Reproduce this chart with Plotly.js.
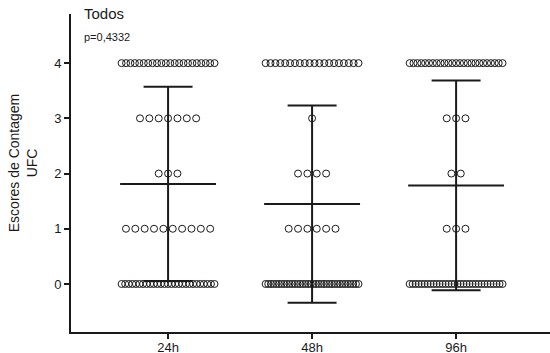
<!DOCTYPE html>
<html><head><meta charset="utf-8">
<script src="https://cdn.plot.ly/plotly-3.0.1.min.js"></script>
<style>html,body{margin:0;padding:0;background:#fff}#c{width:550px;height:353px}</style>
</head><body><div id="c"></div>
<script>
// Data: number of samples at each UFC score (0..4) per time point
const categories = ['24h', '48h', '96h'];
const scores = [0, 1, 2, 3, 4];
const counts24h = [27, 10, 3, 7, 22];
const counts48h = [36, 6, 4, 1, 20];
const counts96h = [32, 3, 2, 3, 25];
const yTicks = [0, 1, 2, 3, 4];
const titleText = 'Todos';
const pText = 'p=0,4332';

const allCounts = [counts24h, counts48h, counts96h];
const FONT = 'Arial, "Liberation Sans", sans-serif';
const INK = '#1a1a1a';

const traces = [];
const sparseStep = 0.065, maxWidth = 0.645;
allCounts.forEach((cnt, g) => {
  const xs = [], ys = [];
  scores.forEach((s, k) => {
    const n = cnt[k];
    if (!n) return;
    const step = n > 1 ? Math.min(sparseStep, maxWidth / (n - 1)) : 0;
    for (let i = 0; i < n; i++) { xs.push(g + (i - (n - 1) / 2) * step); ys.push(s); }
  });
  traces.push({type: 'scatter', mode: 'markers', x: xs, y: ys, hoverinfo: 'skip',
    marker: {symbol: 'circle-open', size: 7, color: INK, line: {width: 1, color: INK}}});
});
// mean and SD lines computed from the data
allCounts.forEach((cnt, g) => {
  let n = 0, sum = 0;
  scores.forEach((s, k) => { n += cnt[k]; sum += s * cnt[k]; });
  const mean = sum / n;
  let ss = 0;
  scores.forEach((s, k) => { ss += cnt[k] * (s - mean) * (s - mean); });
  const sd = Math.sqrt(ss / (n - 1));
  const hw = 0.333, cw = 0.17;
  traces.push({type: 'scatter', mode: 'lines', hoverinfo: 'skip',
    x: [g - hw, g + hw, null, g, g, null, g - cw, g + cw, null, g - cw, g + cw],
    y: [mean, mean, null, mean - sd, mean + sd, null, mean + sd, mean + sd, null, mean - sd, mean - sd],
    line: {color: INK, width: 2}});
});

const layout = {
  width: 550, height: 353,
  margin: {l: 71, r: 0, t: 14, b: 21},
  showlegend: false,
  paper_bgcolor: '#fff', plot_bgcolor: '#fff',
  font: {family: FONT, color: INK, size: 13},
  xaxis: {range: [-0.674, 2.652], tickvals: [0, 1, 2], ticktext: categories,
    showgrid: false, zeroline: false, showline: true, linecolor: INK, linewidth: 2,
    ticks: 'outside', ticklen: 5, tickwidth: 2, tickcolor: INK, tickfont: {size: 13},
    ticklabelstandoff: -3, fixedrange: true},
  yaxis: {range: [-0.87, 4.89], tickvals: yTicks, ticktext: yTicks.map(String),
    showgrid: false, zeroline: false, showline: true, linecolor: INK, linewidth: 2,
    ticks: 'outside', ticklen: 5, tickwidth: 2, tickcolor: INK, tickfont: {size: 13}, fixedrange: true},
  annotations: [
    {text: 'Escores de Contagem<br>UFC', xref: 'paper', yref: 'paper', x: -0.100, y: 0.531,
      textangle: -90, showarrow: false, font: {size: 14, family: FONT, color: INK}, xanchor: 'center', yanchor: 'middle'},
    {text: titleText, xref: 'paper', yref: 'paper', x: 0.023, y: 1.035, xanchor: 'left', yanchor: 'top',
      showarrow: false, font: {size: 15, family: FONT, color: INK}},
    {text: pText, xref: 'paper', yref: 'paper', x: 0.023, y: 0.953, xanchor: 'left', yanchor: 'top',
      showarrow: false, font: {size: 11, family: FONT, color: INK}}
  ]
};
Plotly.newPlot('c', traces, layout, {displayModeBar: false, staticPlot: true});
</script></body></html>
